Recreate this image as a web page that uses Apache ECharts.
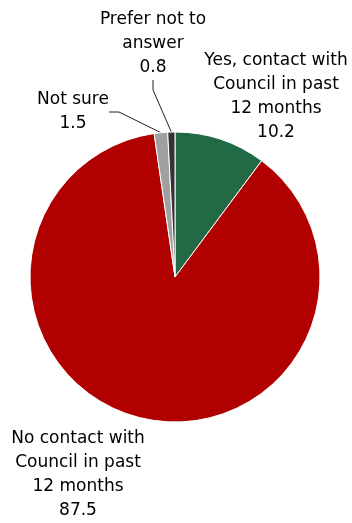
<!DOCTYPE html>
<html><head><meta charset="utf-8">
<style>html,body{margin:0;padding:0;background:#fff}#c{width:352px;height:523px}</style>
<script src="https://cdn.jsdelivr.net/npm/echarts@6/dist/echarts.min.js"></script>
</head><body><div id="c"></div>
<script>
var categories = ["Yes, contact with\nCouncil in past\n12 months", "No contact with\nCouncil in past\n12 months", "Not sure", "Prefer not to\nanswer"];
var values = [10.2, 87.5, 1.5, 0.8];
var colors = ["#216A45", "#B00000", "#A0A0A0", "#333333"];
var labelCenters = [[276, 97], [78, 475], [73, 112], [153, 44]];
var showLines = [false, false, true, true];

var chart = echarts.init(document.getElementById('c'));
chart.setOption({
  animation: false,
  series: [{
    type: 'pie',
    center: [175, 277],
    radius: [0, 145],
    startAngle: 90,
    clockwise: true,
    avoidLabelOverlap: false,
    itemStyle: { borderColor: '#fff', borderWidth: 1 },
    label: {
      show: true,
      formatter: function (p) { return p.name + '\n' + p.value; },
      fontFamily: 'DejaVu Sans',
      fontSize: 17,
      lineHeight: 24,
      color: '#000',
      align: 'center'
    },
    labelLine: { show: true, length: 10, length2: 10, lineStyle: { color: '#222', width: 1 } },
    labelLayout: function (p) {
      var c = labelCenters[p.dataIndex];
      return { x: c[0], y: c[1], align: 'center', verticalAlign: 'middle' };
    },
    data: categories.map(function (n, i) {
      return {
        name: n, value: values[i],
        itemStyle: { color: colors[i] },
        labelLine: { show: showLines[i] }
      };
    })
  }]
});
</script></body></html>
